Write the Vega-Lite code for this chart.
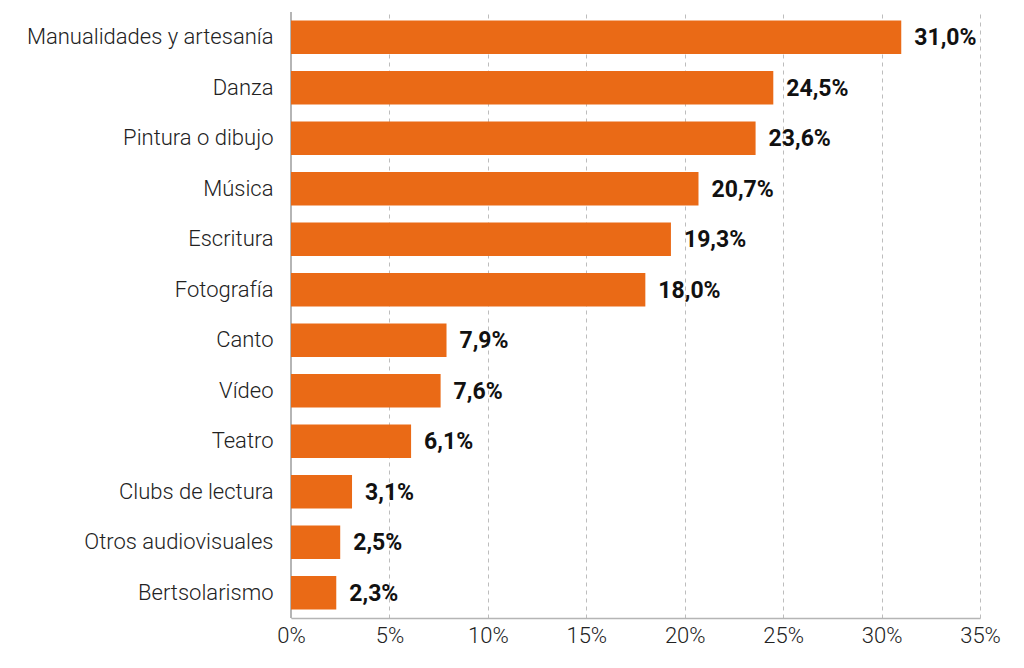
{
  "$schema": "https://vega.github.io/schema/vega-lite/v6.json",
  "autosize": {"type": "none"},
  "padding": {"left": 291, "top": 12, "right": 44, "bottom": 50},
  "width": 689,
  "height": 606,
  "config": {
    "locale": {"number": {"decimal": ",", "thousands": ".", "grouping": [3], "currency": ["", " €"]}},
    "view": {"stroke": null},
    "font": "Roboto"
  },
  "data": {"values": [
    {"categoria": "Manualidades y artesanía", "valor": 0.310},
    {"categoria": "Danza", "valor": 0.245},
    {"categoria": "Pintura o dibujo", "valor": 0.236},
    {"categoria": "Música", "valor": 0.207},
    {"categoria": "Escritura", "valor": 0.193},
    {"categoria": "Fotografía", "valor": 0.180},
    {"categoria": "Canto", "valor": 0.079},
    {"categoria": "Vídeo", "valor": 0.076},
    {"categoria": "Teatro", "valor": 0.061},
    {"categoria": "Clubs de lectura", "valor": 0.031},
    {"categoria": "Otros audiovisuales", "valor": 0.025},
    {"categoria": "Bertsolarismo", "valor": 0.023}
  ]},
  "encoding": {
    "y": {
      "field": "categoria", "type": "nominal", "sort": null,
      "scale": {"paddingInner": 0.34, "paddingOuter": 0.17},
      "axis": {"title": null, "ticks": false, "labelFont": "Roboto", "labelFontWeight": 300, "labelFontSize": 22, "labelColor": "#222222", "labelPadding": 18, "labelLimit": 400, "domain": false, "grid": false}
    },
    "x": {
      "field": "valor", "type": "quantitative",
      "scale": {"domain": [0, 0.35], "nice": false},
      "axis": {"title": null, "format": ".0%", "values": [0, 0.05, 0.1, 0.15, 0.2, 0.25, 0.3, 0.35], "ticks": false, "labelFont": "Roboto", "labelFontWeight": 300, "labelFontSize": 22, "labelColor": "#222222", "labelPadding": 7, "labelFlush": false, "labelOverlap": false, "domain": true, "domainColor": "#b5b5b5", "domainWidth": 1.5, "grid": true, "gridColor": "#bdbdbd", "gridDash": [4, 4], "gridWidth": 1}
    }
  },
  "layer": [
    {"mark": {"type": "rule", "color": "#b5b5b5", "strokeWidth": 2}, "encoding": {"x": {"datum": 0}, "y": null}},
    {"mark": {"type": "bar", "color": "#EA6A16"}},
    {"mark": {"type": "text", "align": "left", "dx": 13, "dy": 1, "fontWeight": "bold", "fontSize": 23, "font": "Roboto", "color": "#111111"},
     "encoding": {"text": {"field": "valor", "type": "quantitative", "format": ".1%"}}}
  ]
}
